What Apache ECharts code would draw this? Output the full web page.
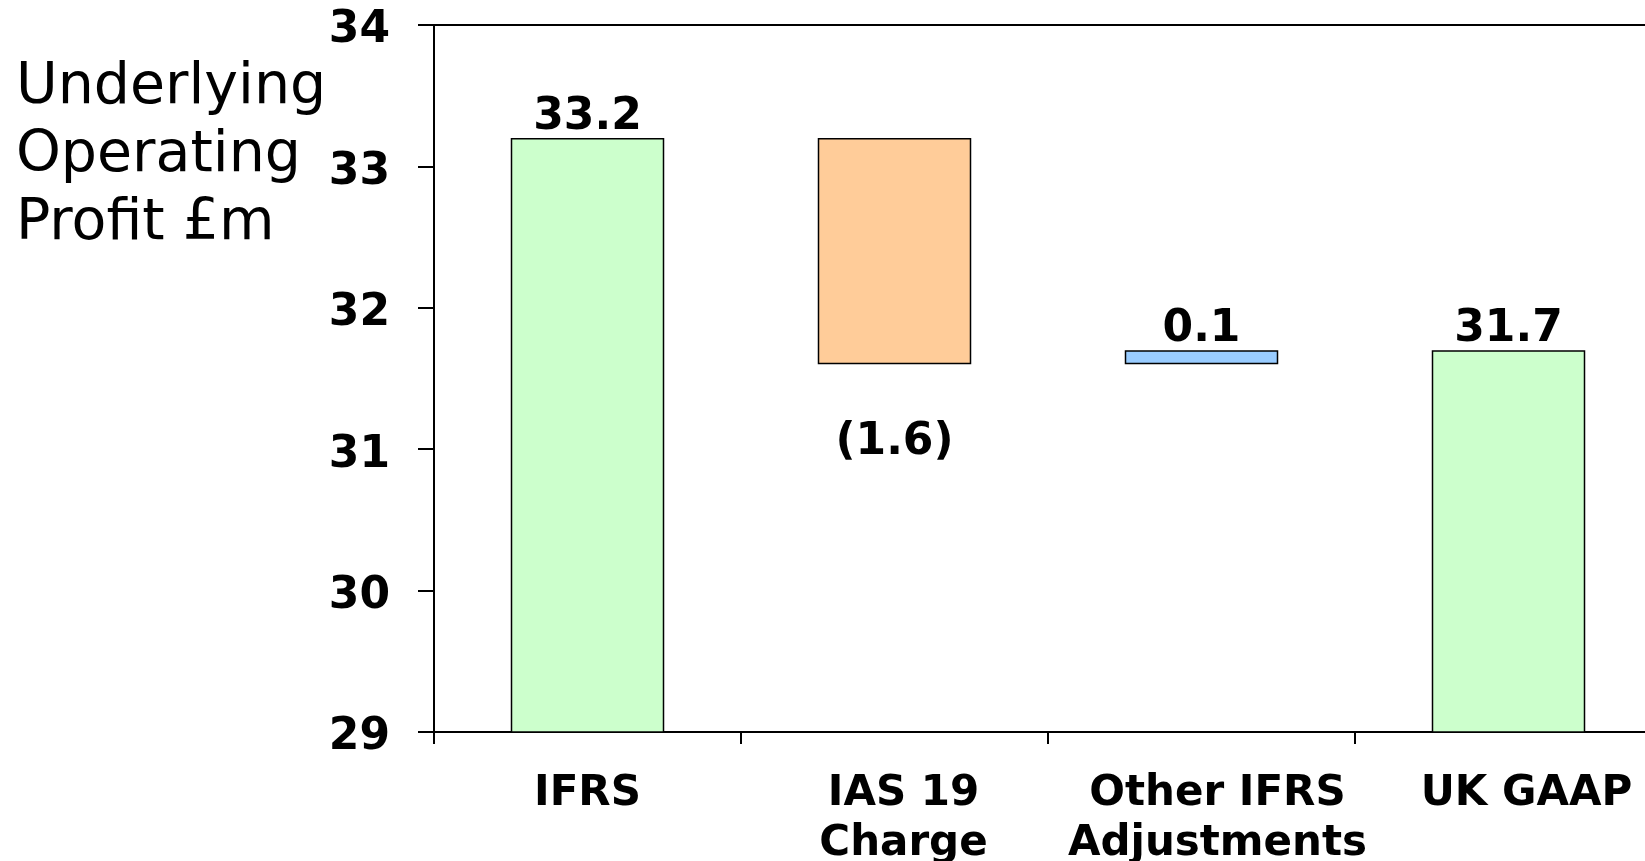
<!DOCTYPE html>
<html>
<head>
<meta charset="utf-8">
<title>Underlying Operating Profit bridge</title>
<script src="https://cdn.jsdelivr.net/npm/echarts@6/dist/echarts.min.js"></script>
<style>
  html, body { margin: 0; padding: 0; background: #ffffff; }
  #chart { width: 1645px; height: 861px; }
</style>
</head>
<body>
<div id="chart"></div>
<script>
// Bridge from IFRS to UK GAAP underlying operating profit (£m)
const categories = ['IFRS', 'IAS 19\nCharge', 'Other IFRS\nAdjustments', 'UK GAAP'];
// Totals are full bars; changes float from the running total
const totals  = [33.2, null, null, 31.7];
const changes = [null, -1.6, 0.1, null];
const barColors = ['#CCFFCC', '#FFCC99', '#99CCFF', '#CCFFCC'];
const yTicks = { min: 29, max: 34, interval: 1 };

// Small horizontal nudges for the category captions (left, right padding)
const captionPadding = [[0, 0, 0, 0], [0, 0, 0, 18], [0, 0, 0, 32], [0, 0, 0, 36]];

// Build invisible base + visible segment for each column
const base = [];
const segment = [];
let running = 0;
categories.forEach((c, i) => {
  if (totals[i] !== null) {
    running = totals[i];
    base.push(0);
    segment.push({ value: totals[i], raw: totals[i], kind: 'total' });
  } else {
    const prev = running;
    running = +(running + changes[i]).toFixed(4);
    const low = Math.min(prev, running);
    base.push(low);
    segment.push({ value: Math.abs(changes[i]), raw: changes[i], kind: 'change' });
  }
});

const FONT = 'DejaVu Sans';

const segmentData = segment.map((s, i) => {
  const item = {
    value: s.value,
    itemStyle: { color: barColors[i] }
  };
  if (s.kind === 'change' && s.raw < 0) {
    item.label = { position: 'bottom', distance: 56 };
  }
  return item;
});

const categoryItems = categories.map((c, i) => ({
  value: c,
  textStyle: { padding: captionPadding[i] }
}));

const chart = echarts.init(document.getElementById('chart'), null, { renderer: 'canvas' });
chart.setOption({
  animation: false,
  backgroundColor: '#ffffff',
  title: {
    text: 'Underlying\nOperating\nProfit £m',
    left: 16,
    top: 54,
    padding: 0,
    textStyle: {
      fontFamily: FONT,
      fontSize: 57,
      fontWeight: 'normal',
      lineHeight: 68,
      color: '#000000'
    }
  },
  grid: {
    left: 434,
    top: 25,
    width: 1228,
    bottom: 129,
    outerBoundsMode: 'none',
    containLabel: false,
    show: true,
    borderColor: '#000000',
    borderWidth: 2,
    backgroundColor: 'transparent'
  },
  xAxis: {
    type: 'category',
    data: categoryItems,
    axisLine: { onZero: false, lineStyle: { color: '#000000', width: 2 } },
    axisTick: { show: true, alignWithLabel: false, length: 12, lineStyle: { color: '#000000', width: 2 } },
    axisLabel: {
      interval: 0,
      margin: 37,
      fontFamily: FONT,
      fontSize: 42,
      fontWeight: 'bold',
      lineHeight: 50,
      color: '#000000'
    },
    splitLine: { show: false }
  },
  yAxis: {
    type: 'value',
    min: yTicks.min,
    max: yTicks.max,
    interval: yTicks.interval,
    axisLine: { show: true, lineStyle: { color: '#000000', width: 2 } },
    axisTick: { show: true, length: 16, lineStyle: { color: '#000000', width: 2 } },
    axisLabel: {
      margin: 44,
      verticalAlign: 'top',
      lineHeight: 12,
      fontFamily: FONT,
      fontSize: 44,
      fontWeight: 'bold',
      color: '#000000'
    },
    splitLine: { show: false }
  },
  series: [
    {
      name: 'base',
      type: 'bar',
      stack: 'bridge',
      data: base,
      barWidth: '50%',
      itemStyle: { color: 'transparent', borderColor: 'transparent' },
      emphasis: { disabled: true },
      silent: true
    },
    {
      name: 'value',
      type: 'bar',
      stack: 'bridge',
      data: segmentData,
      barWidth: '50%',
      itemStyle: { borderColor: '#000000', borderWidth: 1.5 },
      label: {
        show: true,
        position: 'top',
        distance: -1,
        fontFamily: FONT,
        fontSize: 44,
        fontWeight: 'bold',
        color: '#000000',
        formatter: (p) => {
          const s = segment[p.dataIndex];
          return s.raw < 0 ? '(' + Math.abs(s.raw).toFixed(1) + ')' : s.raw.toFixed(1);
        }
      }
    }
  ]
});
</script>
</body>
</html>
